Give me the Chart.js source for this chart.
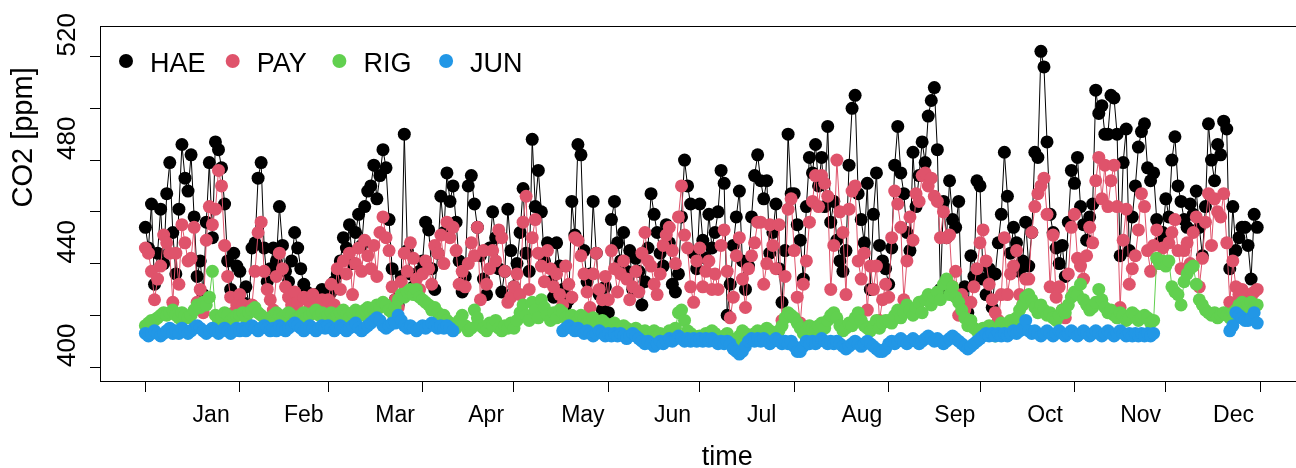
<!DOCTYPE html>
<html>
<head>
<meta charset="utf-8">
<script src="https://cdn.jsdelivr.net/npm/chart.js@4.4.1/dist/chart.umd.min.js"></script>
<style>
  html, body { margin: 0; padding: 0; background: #fff; overflow: hidden; }
  #wrap { width: 1310px; height: 468px; }
</style>
</head>
<body>
<div id="wrap"><canvas id="co2Chart" width="1310" height="468"></canvas></div>
<script>
// month boundaries (day of year, leap year) and labels
const monthStarts = [0, 31, 60, 91, 121, 152, 182, 213, 244, 274, 305, 335, 366];
const monthNames = ['Jan', 'Feb', 'Mar', 'Apr', 'May', 'Jun', 'Jul', 'Aug', 'Sep', 'Oct', 'Nov', 'Dec'];
const yTicks = [400, 420, 440, 460, 480, 500, 520];
const yLabels = [400, 440, 480, 520];

// daily CO2 [ppm], one value per day
const hae = [
  454,446,463,432,444,461,440,467,479,452,436,461,486,473,468,482,458,435,441,428,456,479,450,487,484,477,463,441,430,444,439,
  437,425,431,424,446,448,473,479,446,433,438,446,441,462,447,437,433,441,452,446,438,432,429,428,427,428,426,430,428,
  427,429,433,436,441,450,446,455,440,452,459,447,462,468,470,478,465,474,484,477,457,438,426,424,435,490,445,436,431,428,437,
  441,456,453,438,430,444,466,452,475,464,470,456,441,429,435,470,474,463,454,443,434,428,446,460,450,438,429,437,461,445,
  431,440,452,469,444,437,488,462,476,460,441,448,433,427,448,439,430,424,426,464,451,486,482,445,433,436,464,444,428,422,431,
  421,457,464,448,441,452,437,445,430,442,437,424,433,446,467,459,452,444,439,455,448,432,429,436,458,480,470,463,444,438,
  463,449,442,459,446,452,460,476,471,420,432,447,458,468,441,430,439,458,474,482,472,465,472,444,452,463,438,425,445,490,467,
  467,455,449,434,462,481,475,486,470,481,462,493,456,464,449,441,437,445,478,500,505,467,457,448,471,430,459,475,447,441,438,
  432,446,478,493,475,467,452,445,483,462,474,487,479,497,503,508,484,430,464,450,472,457,454,464,426,431,421,443,435,472,
  470,434,428,438,423,436,448,459,483,466,444,454,448,437,441,456,439,452,483,481,522,516,487,459,452,446,440,447,435,456,476,
  471,481,462,455,449,458,463,507,498,501,490,490,505,504,490,443,479,492,445,458,470,485,491,494,477,472,475,457,448,452,
  465,458,480,489,470,464,457,454,463,459,468,454,443,462,494,480,472,486,482,495,492,438,462,445,450,454,454,447,434,459,454
];
const pay = [
  446,444,437,426,434,439,451,448,444,425,444,432,455,448,441,442,454,425,430,421,449,462,455,461,476,470,447,435,427,421,424,
  428,424,420,422,424,437,452,456,437,430,426,422,435,444,438,431,427,424,429,425,421,427,426,423,428,425,422,426,423,
  426,432,424,438,430,441,436,444,428,440,446,437,449,443,438,447,435,452,458,450,445,431,426,423,433,444,437,448,442,434,430,
  436,441,438,432,447,444,451,440,456,450,454,445,432,437,431,440,448,443,454,426,445,432,438,445,441,453,450,437,425,427,
  431,436,428,456,466,430,450,457,444,439,433,445,438,431,436,428,424,439,432,427,450,449,443,436,429,423,436,444,430,426,435,
  426,445,438,429,436,441,434,426,431,437,429,444,452,441,439,432,428,436,447,451,454,445,440,458,470,451,446,431,425,441,
  446,431,437,441,430,436,430,447,453,437,419,427,443,450,434,423,438,443,448,456,456,432,440,455,447,438,455,418,435,461,465,
  445,427,417,432,441,456,464,474,462,474,471,466,430,447,480,460,452,428,461,468,470,441,434,444,422,439,430,439,418,426,432,
  427,450,468,463,454,426,441,458,449,467,464,474,475,470,473,466,464,450,460,450,451,431,437,420,428,422,418,425,431,438,
  448,453,441,432,426,421,418,428,450,428,436,439,445,428,424,434,434,452,462,467,470,473,459,431,451,427,431,422,419,436,454,
  459,442,439,434,443,454,448,472,481,465,478,462,472,478,462,423,449,461,432,438,443,453,467,462,445,437,447,453,440,446,
  440,448,452,457,445,438,445,448,440,452,458,431,442,456,467,447,465,460,458,467,448,425,441,431,428,430,427,428,427,429,430
];
const rig = [
  416,417,418,418,419,420,421,420,421,422,420,419,421,420,419,420,422,424,423,425,424,427,437,420,418,419,421,420,418,419,420,
  420,421,419,421,422,423,421,420,419,418,419,420,421,420,419,420,421,420,418,419,420,421,419,420,421,422,420,421,419,
  420,421,419,420,421,422,420,419,421,422,421,420,422,423,421,422,424,423,425,424,422,421,423,426,428,427,429,430,428,430,427,
  426,425,424,422,423,421,419,420,418,417,416,415,418,420,416,414,415,422,419,416,415,414,417,416,418,415,414,416,415,417,
  415,418,421,424,420,418,425,422,419,426,423,420,418,421,419,422,421,419,418,420,419,418,420,419,417,418,419,417,416,418,417,
  416,415,417,415,414,416,415,414,413,415,414,413,414,412,413,414,412,413,411,412,414,413,415,421,422,418,414,413,412,411,
  412,411,413,412,414,413,411,410,412,413,411,409,410,412,414,413,412,411,413,414,412,413,415,414,413,412,414,416,419,421,420,
  419,417,415,413,414,416,415,414,416,417,415,418,420,421,419,416,414,415,417,416,419,421,418,416,415,414,416,418,415,417,418,
  418,417,420,422,419,421,424,422,420,423,425,421,426,428,424,427,429,426,432,434,428,431,427,425,422,419,416,418,415,414,
  414,415,413,416,414,412,415,417,414,416,418,417,419,422,424,427,428,426,423,421,424,422,420,421,419,418,420,422,421,424,427,
  429,428,432,426,424,422,423,425,430,426,423,421,422,420,419,421,420,418,419,421,420,418,419,420,419,417,418,442,440,441,
  439,441,431,429,428,424,433,436,438,439,432,426,424,422,421,420,421,419,420,421,420,419,421,422,424,425,423,424,425,423,424
];
const jun = [
  413,412,413,414,413,412,413,414,415,413,414,413,415,414,413,414,415,416,415,414,413,414,415,414,413,414,415,414,413,414,415,
  414,415,414,415,416,415,414,415,416,415,414,415,414,416,415,414,415,416,417,416,415,414,415,416,415,414,415,416,415,
  416,415,414,415,416,415,414,415,416,417,415,414,415,416,417,418,419,418,416,415,416,417,417,420,418,416,415,416,415,414,415,
  416,415,416,417,416,415,416,415,416,415,414,null,null,null,null,null,null,null,null,null,null,null,null,null,null,null,null,null,null,null,
  null,null,null,null,null,null,null,null,null,null,null,null,null,null,null,null,414,415,416,415,414,415,414,413,414,413,412,413,414,413,412,
  413,412,413,412,413,412,411,412,413,412,411,410,409,410,409,408,409,410,409,410,411,410,411,412,411,410,411,410,411,410,
  411,410,411,410,411,410,409,410,409,410,409,407,406,405,406,408,410,411,410,411,410,411,410,409,410,411,410,409,410,409,410,
  408,406,406,408,410,409,410,409,410,411,410,409,410,409,410,409,408,407,408,409,410,409,408,409,410,409,408,407,406,406,407,
  409,410,409,410,411,410,409,410,411,410,409,410,411,412,411,410,411,410,409,410,411,412,411,410,409,408,407,408,409,410,
  411,412,413,412,413,412,413,412,413,412,413,414,413,414,415,418,414,413,414,413,412,413,414,413,412,413,414,413,412,413,414,
  413,412,413,414,413,412,413,414,413,412,413,414,413,412,413,414,413,412,413,412,413,412,413,412,413,412,413,null,null,null,
  null,null,null,null,null,null,null,null,null,null,null,null,null,null,null,null,null,null,null,null,null,414,416,421,420,419,418,418,419,421,417
];

const toPoints = vals => vals.map((v, i) => ({ x: i, y: v }));

function series(label, vals, color, order) {
  return {
    label: label,
    data: toPoints(vals),
    borderColor: color,
    backgroundColor: color,
    pointBackgroundColor: color,
    borderWidth: 1,
    pointRadius: 6.5,
    pointBorderWidth: 0,
    tension: 0,
    spanGaps: false,
    order: order
  };
}

const FONT = '"Liberation Sans", Arial, sans-serif';

// R-style frame, labels and legend
const rStyle = {
  id: 'rStyle',
  afterDraw(chart) {
    const ctx = chart.ctx;
    const a = chart.chartArea;
    const x = chart.scales.x, y = chart.scales.y;
    ctx.save();
    ctx.strokeStyle = '#000';
    ctx.lineWidth = 1;
    ctx.strokeRect(Math.round(a.left) + 0.5, Math.round(a.top) + 0.5,
                   Math.round(a.right - a.left), Math.round(a.bottom - a.top));

    ctx.fillStyle = '#000';
    ctx.textAlign = 'left';
    ctx.textBaseline = 'alphabetic';

    ctx.font = '23px ' + FONT;
    monthNames.forEach((m, i) => {
      const mid = (monthStarts[i] + monthStarts[i + 1]) / 2;
      ctx.fillText(m, x.getPixelForValue(mid), 421.5);
    });

    ctx.font = '26px ' + FONT;
    yLabels.forEach(v => {
      ctx.save();
      ctx.translate(75, y.getPixelForValue(v));
      ctx.rotate(-Math.PI / 2);
      ctx.fillText(String(v), 0, 0);
      ctx.restore();
    });

    ctx.font = '27px ' + FONT;
    ctx.fillText('time', (a.left + a.right) / 2, 465);

    ctx.save();
    ctx.translate(32, (a.top + a.bottom) / 2 + 4);
    ctx.rotate(-Math.PI / 2);
    ctx.font = '29px ' + FONT;
    ctx.fillText('CO2 [ppm]', 0, 0);
    ctx.restore();

    ctx.font = '27px ' + FONT;
    chart.data.datasets.forEach((ds, k) => {
      const px = 126 + k * 106.7;
      ctx.beginPath();
      ctx.arc(px, 61, 7, 0, Math.PI * 2);
      ctx.fillStyle = ds.pointBackgroundColor;
      ctx.fill();
      ctx.fillStyle = '#000';
      ctx.fillText(ds.label, px + 24, 71.5);
    });
    ctx.restore();
  }
};

const ctx = document.getElementById('co2Chart').getContext('2d');
new Chart(ctx, {
  type: 'line',
  data: {
    datasets: [
      series('HAE', hae, '#000000', 4),
      series('PAY', pay, '#DF536B', 3),
      series('RIG', rig, '#61D04F', 2),
      series('JUN', jun, '#2297E6', 1)
    ]
  },
  options: {
    responsive: false,
    devicePixelRatio: 1,
    animation: false,
    layout: { padding: { top: 26, right: 4.7, left: 0, bottom: 0 } },
    plugins: { legend: { display: false }, tooltip: { enabled: false } },
    scales: {
      x: {
        type: 'linear',
        min: -14.9,
        max: 380.2,
        afterBuildTicks: s => { s.ticks = monthStarts.map(v => ({ value: v })); },
        afterFit: s => { s.height = 87; },
        ticks: { display: false },
        grid: { display: true, drawOnChartArea: false, drawTicks: true, tickLength: 11, color: '#000', lineWidth: 1 },
        border: { display: true, color: '#000', width: 1 }
      },
      y: {
        type: 'linear',
        min: 394.6,
        max: 531.8,
        afterBuildTicks: s => { s.ticks = yTicks.map(v => ({ value: v })); },
        afterFit: s => { s.width = 100; },
        ticks: { display: false },
        grid: { display: true, drawOnChartArea: false, drawTicks: true, tickLength: 10, color: '#000', lineWidth: 1 },
        border: { display: true, color: '#000', width: 1 }
      }
    }
  },
  plugins: [rStyle]
});
</script>
</body>
</html>
